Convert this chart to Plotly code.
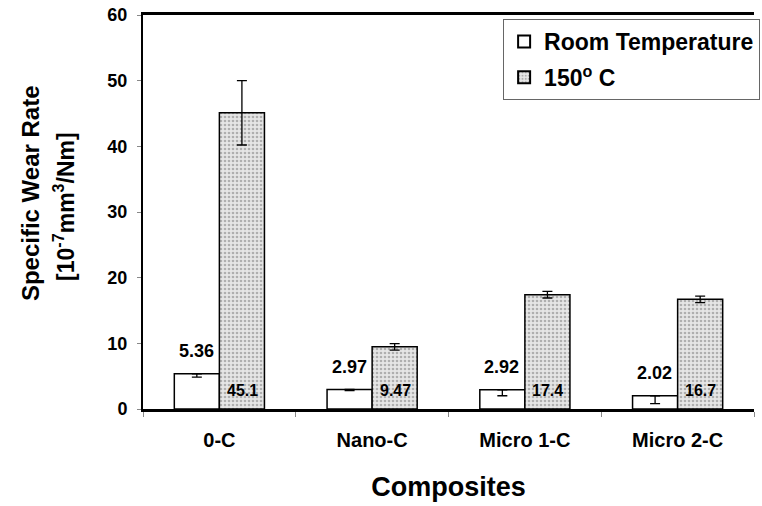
import plotly.graph_objects as go

categories = ["0-C", "Nano-C", "Micro 1-C", "Micro 2-C"]
room_temp = [5.36, 2.97, 2.92, 2.02]
room_err = [0.5, 0.15, 0.9, 1.2]
hot = [45.1, 9.47, 17.4, 16.7]
hot_err = [4.9, 0.5, 0.5, 0.5]
room_labels = ["5.36", "2.97", "2.92", "2.02"]
hot_labels = ["45.1", "9.47", "17.4", "16.7"]
y_ticks = [0, 10, 20, 30, 40, 50, 60]

FONT = "Liberation Sans, Arial, sans-serif"

fig = go.Figure()
fig.add_trace(go.Bar(
    name="Room Temperature", x=categories, y=room_temp, legendgroup="a",
    marker=dict(color="white", line=dict(color="black", width=1.5)),
    error_y=dict(type="data", symmetric=False, array=[0]*4, arrayminus=room_err,
                 color="black", thickness=1.3, width=5),
))
fig.add_trace(go.Bar(
    name="150<sup>o</sup> C", x=categories, y=hot, legendgroup="b",
    marker=dict(color="#e6e6e6", line=dict(color="black", width=1.5),
                pattern=dict(shape=".", fgcolor="#777777", bgcolor="#e6e6e6",
                             size=4, solidity=0.35)),
    error_y=dict(type="data", array=hot_err, color="black", thickness=1.3, width=5),
))

for c, v, lab in zip(categories, room_temp, room_labels):
    fig.add_annotation(x=c, y=v, text=lab, showarrow=False, xshift=-23,
                       yanchor="bottom", yshift=11,
                       font=dict(family=FONT, size=18, color="black", weight="bold"))
for c, lab in zip(categories, hot_labels):
    fig.add_annotation(x=c, y=0, text=lab, showarrow=False, xshift=23,
                       yanchor="bottom", yshift=8,
                       font=dict(family=FONT, size=16, color="black", weight="bold"))

# y-axis title (two lines)
fig.add_annotation(xref="paper", yref="paper", x=0, y=0.548, xshift=-113,
                   xanchor="center", yanchor="middle",
                   text="Specific Wear Rate", textangle=-90, showarrow=False,
                   font=dict(family=FONT, size=24, color="black", weight="bold"))
fig.add_annotation(xref="paper", yref="paper", x=0, y=0.513, xshift=-79,
                   xanchor="center", yanchor="middle",
                   text="[10<sup>-7</sup>mm<sup>3</sup>/Nm]", textangle=-90, showarrow=False,
                   font=dict(family=FONT, size=23, color="black", weight="bold"))

fig.update_layout(
    width=762, height=506,
    margin=dict(l=143, r=2, t=15, b=97),
    paper_bgcolor="white", plot_bgcolor="white",
    barmode="group", bargap=0.41, bargroupgap=0,
    font=dict(family=FONT, color="black", weight="bold"),
    showlegend=True,
    legend=dict(x=1.01, y=0.99, xanchor="right", yanchor="top",
                bordercolor="#666666", borderwidth=1, bgcolor="white",
                font=dict(family=FONT, size=23, weight="bold"),
                tracegroupgap=3, itemsizing="constant", traceorder="grouped"),
    xaxis=dict(
        showline=True, linecolor="black", linewidth=2.5, mirror=True,
        ticks="outside", tickson="boundaries", ticklen=5, tickcolor="#888888",
        ticklabelstandoff=11,
        tickfont=dict(family=FONT, size=20, weight="bold"),
        title=dict(text="Composites", font=dict(family=FONT, size=27, weight="bold"),
                   standoff=28),
        range=[-0.5, 3.5],
    ),
    yaxis=dict(
        range=[0, 60], tickvals=y_ticks,
        showline=True, linecolor="black", linewidth=2,
        ticks="outside", ticklen=4, tickcolor="#888888",
        showgrid=False, zeroline=False, ticklabelstandoff=6,
        tickfont=dict(family=FONT, size=18, weight="bold"),
    ),
)

fig.write_html("out.html")
